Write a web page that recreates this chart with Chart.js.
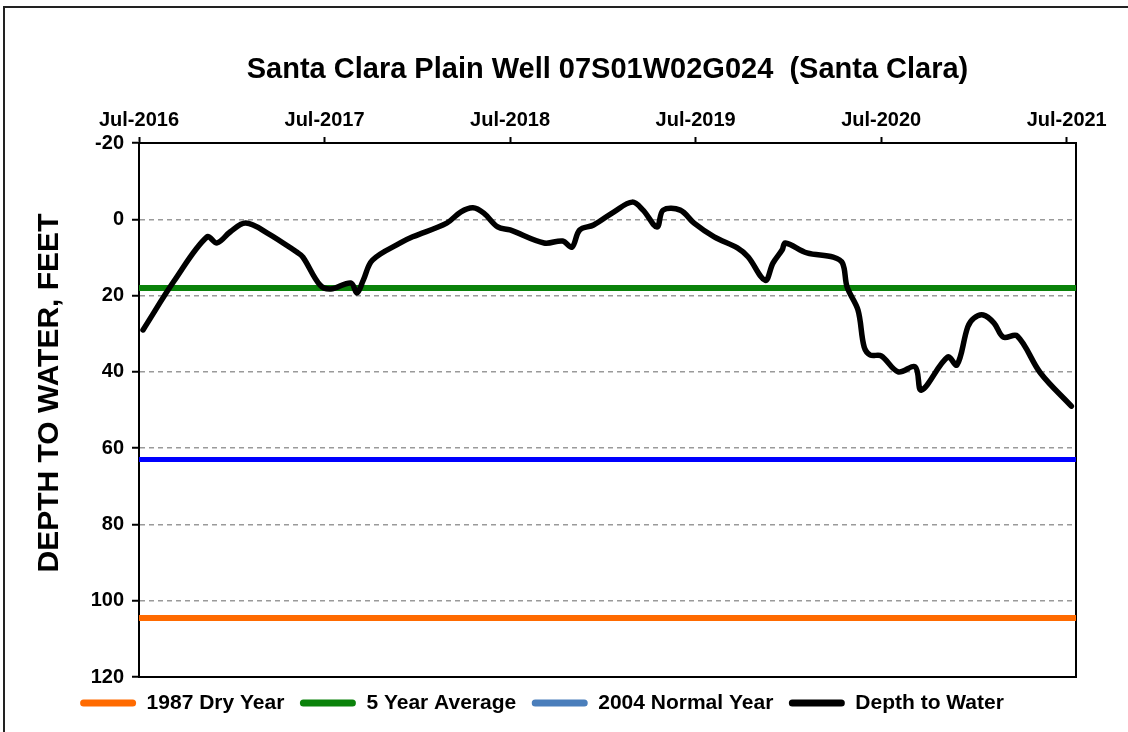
<!DOCTYPE html>
<html>
<head>
<meta charset="utf-8">
<script src="https://cdn.jsdelivr.net/npm/chart.js@4.4.1/dist/chart.umd.min.js"></script>
<style>
  html, body { margin: 0; padding: 0; background: #fff; }
  #wrap { position: relative; width: 1128px; height: 732px; overflow: hidden; }
  #frame { position: absolute; left: 3px; top: 6px; width: 1140px; height: 740px;
           border-left: 2px solid #222; border-top: 2px solid #222; pointer-events: none; }
</style>
</head>
<body>
<div id="wrap">
  <canvas id="wellChart" width="1128" height="732"></canvas>
  <div id="frame"></div>
</div>
<script>
// months since Jul-2016
const tickLabels = ['Jul-2016', 'Jul-2017', 'Jul-2018', 'Jul-2019', 'Jul-2020', 'Jul-2021'];
const tickMonths = [0, 12, 24, 36, 48, 60];
const xMin = 0;
const xMax = 60.6;

const depthMonths = [0.26, 2.3, 4.4, 5.05, 5.9, 6.9, 8.3, 10.2, 10.6, 11.7, 12.4, 13.7, 14.1, 14.5, 15.1,
  16.9, 17.7, 19.9, 20.8, 21.6, 22.3, 23.2, 24.0, 26.2, 27.4, 28.0, 28.5, 29.4, 30.7, 31.9, 32.6,
  33.5, 33.9, 35.0, 35.9, 37.2, 38.7, 39.4, 40.5, 41.0, 41.6, 41.8, 43.2, 44.9, 45.5, 45.8, 46.5,
  46.9, 47.3, 48.0, 49.1, 50.2, 50.6, 52.3, 52.9, 53.6, 54.0, 54.6, 55.3, 55.9, 56.8, 58.3, 60.3];
const depthFeet = [29, 16, 4.6, 6.2, 3.3, 1.0, 3.6, 8.6, 9.9, 17.2, 18.3, 16.7, 19.3, 16, 10.7,
  6.2, 4.6, 1.0, -1.9, -3.0, -1.6, 2.0, 2.8, 6.2, 5.7, 7.3, 2.8, 1.5, -1.9, -4.5, -2.4,
  2.0, -2.4, -2.4, 1.0, 4.6, 7.5, 9.9, 16, 11.5, 8, 6.2, 8.8, 9.9, 11.5, 17.8, 23.8,
  33.5, 35.6, 35.8, 40, 38.7, 44.8, 36.1, 38.2, 28.2, 25.9, 25.1, 27.2, 30.9, 30.6, 40.3, 49];

const dryYear1987 = 104.5;
const fiveYearAvg = 18;
const normalYear2004 = 63;

const legendNames = ['1987 Dry Year', '5 Year Average', '2004 Normal Year', 'Depth to Water'];
const legendColors = ['#FF6A00', '#0A820A', '#4A7EBB', '#000000'];
const yTitle = 'DEPTH TO WATER, FEET';

function flatLine(v) {
  return [{ x: xMin, y: v }, { x: xMax, y: v }];
}

Chart.defaults.font.family = '"Liberation Sans", Arial, sans-serif';
Chart.defaults.font.weight = 'bold';
Chart.defaults.color = '#000';

// Plot frame (right and bottom sides)
const plotFrame = {
  id: 'plotFrame',
  beforeDatasetsDraw(chart) {
    const { ctx, chartArea: a } = chart;
    ctx.save();
    ctx.strokeStyle = '#000';
    ctx.lineWidth = 2;
    ctx.strokeRect(a.left, a.top, a.right - a.left, a.bottom - a.top);
    ctx.restore();
  }
};

// Vertical axis title, sits a bit above the plot's middle like the original
const axisTitle = {
  id: 'axisTitle',
  afterDraw(chart) {
    const { ctx, chartArea: a } = chart;
    ctx.save();
    ctx.translate(50, (a.top + a.bottom) / 2 - 17);
    ctx.rotate(-Math.PI / 2);
    ctx.font = 'bold 30px "Liberation Sans", Arial, sans-serif';
    ctx.fillStyle = '#000';
    ctx.textAlign = 'center';
    ctx.textBaseline = 'middle';
    ctx.fillText(yTitle, 0, 0);
    ctx.restore();
  }
};

const ctx = document.getElementById('wellChart').getContext('2d');
new Chart(ctx, {
  type: 'line',
  data: {
    datasets: [
      { label: legendNames[0], data: flatLine(dryYear1987), borderColor: '#FF6A00', borderWidth: 6, order: 1 },
      { label: legendNames[1], data: flatLine(fiveYearAvg), borderColor: '#0A820A', borderWidth: 6, order: 1 },
      { label: legendNames[2], data: flatLine(normalYear2004), borderColor: '#0000FF', borderWidth: 5, order: 1 },
      {
        label: legendNames[3],
        data: depthMonths.map((m, i) => ({ x: m, y: depthFeet[i] })),
        borderColor: '#000', borderWidth: 5.5, tension: 0.35, order: 0,
        borderCapStyle: 'round', borderJoinStyle: 'round'
      }
    ]
  },
  options: {
    responsive: false,
    animation: false,
    elements: { point: { radius: 0 } },
    layout: { padding: { left: 8, right: 52, top: 0, bottom: 8.5 } },
    plugins: {
      tooltip: { enabled: false },
      title: {
        display: true,
        fullSize: false,
        text: 'Santa Clara Plain Well 07S01W02G024  (Santa Clara)',
        font: { size: 29, weight: 'bold' },
        padding: { top: 52.6, bottom: 0 }
      },
      legend: {
        position: 'bottom',
        labels: {
          font: { size: 21, weight: 'bold' },
          boxWidth: 56,
          boxHeight: 7,
          padding: 15.5,
          useBorderRadius: true,
          borderRadius: 3.5,
          generateLabels: () => legendNames.map((t, i) => ({
            text: t, fillStyle: legendColors[i], strokeStyle: legendColors[i],
            lineWidth: 0, borderRadius: 3.5, datasetIndex: i
          }))
        }
      }
    },
    scales: {
      x: {
        type: 'linear',
        position: 'top',
        min: xMin,
        max: xMax,
        afterBuildTicks: s => { s.ticks = tickMonths.map(v => ({ value: v })); },
        afterFit: s => { s.height = 55.6; },
        ticks: {
          font: { size: 20, weight: 'bold' },
          padding: 5,
          maxRotation: 0,
          autoSkip: false,
          callback: (v) => tickLabels[tickMonths.indexOf(v)]
        },
        grid: { drawOnChartArea: false, drawTicks: true, tickLength: 6, tickColor: '#000', tickWidth: 2 },
        border: { display: true, color: '#000', width: 2 }
      },
      y: {
        reverse: true,
        min: -20,
        max: 120,
        afterFit: s => { s.width = 131; },
        ticks: { stepSize: 20, font: { size: 20, weight: 'bold' }, padding: 8 },
        grid: {
          color: c => (c.tick && (c.tick.value === -20 || c.tick.value === 120)) ? 'rgba(0,0,0,0)' : '#9a9a9a',
          lineWidth: 1.5,
          tickColor: '#000',
          tickLength: 7,
          tickWidth: 2
        },
        border: { display: true, color: '#000', width: 2, dash: [5, 4] }
      }
    }
  },
  plugins: [plotFrame, axisTitle]
});
</script>
</body>
</html>
